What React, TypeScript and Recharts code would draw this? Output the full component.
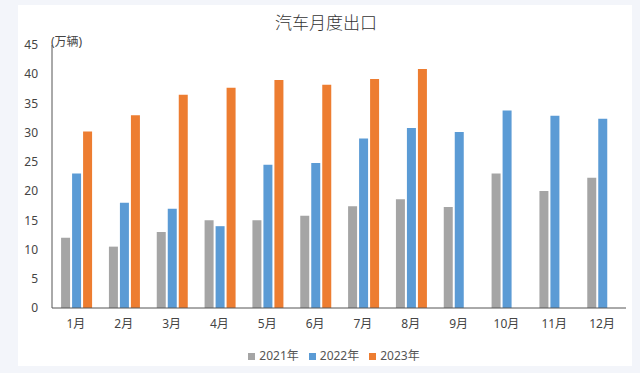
import { BarChart, Bar, XAxis, YAxis, Legend } from 'recharts';

const months = ['1月', '2月', '3月', '4月', '5月', '6月', '7月', '8月', '9月', '10月', '11月', '12月'];
const exports2021 = [12, 10.5, 13, 15, 15, 15.8, 17.4, 18.6, 17.3, 23, 20, 22.3];
const exports2022 = [23, 18, 17, 14, 24.5, 24.8, 29, 30.8, 30.1, 33.8, 32.9, 32.4];
const exports2023 = [30.2, 33, 36.5, 37.7, 39, 38.2, 39.2, 40.9, null, null, null, null];
const yTicks = [0, 5, 10, 15, 20, 25, 30, 35, 40, 45];

const data = months.map((m, i) => ({
  month: m,
  y2021: exports2021[i],
  y2022: exports2022[i],
  y2023: exports2023[i],
}));

const FONT = "'Noto Sans', 'Noto Sans CJK SC', sans-serif";

export default function App() {
  return (
    <div
      style={{
        position: 'absolute',
        left: 0,
        top: 0,
        width: 640,
        height: 373,
        background: '#f3f5fa',
        fontFamily: FONT,
      }}
    >
      <div
        style={{
          position: 'absolute',
          left: 18,
          top: 5,
          width: 614,
          height: 361,
          background: '#fff',
        }}
      />
      <div
        style={{
          position: 'absolute',
          left: 0,
          width: 652,
          top: 9,
          textAlign: 'center',
          fontSize: 17,
          color: '#333',
          fontFamily: "'Noto Sans CJK SC', sans-serif",
          fontWeight: 300,
        }}
      >
        汽车月度出口
      </div>
      <div
        style={{
          position: 'absolute',
          left: 51,
          top: 32,
          fontSize: 12,
          color: '#444',
        }}
      >
        (万辆)
      </div>
      <div style={{ position: 'absolute', left: 0, top: 0 }}>
        <BarChart
          width={640}
          height={373}
          data={data}
          margin={{ top: 45, right: 14, left: 0, bottom: 9 }}
          barCategoryGap="19%"
          barGap={2}
        >
          <XAxis
            dataKey="month"
            axisLine={{ stroke: '#555' }}
            tickLine={false}
            tickMargin={5}
            tick={{ fontSize: 12, fill: '#444', fontFamily: FONT }}
            interval={0}
            height={38}
          />
          <YAxis
            domain={[0, 45]}
            ticks={yTicks}
            axisLine={{ stroke: '#555' }}
            tickLine={false}
            tickMargin={8}
            width={52}
            tick={{ fontSize: 12, fill: '#444', fontFamily: FONT }}
          />
          <Legend
            verticalAlign="bottom"
            iconType="square"
            iconSize={7}
            wrapperStyle={{ fontSize: 12, color: '#555', paddingLeft: 26 }}
            formatter={(v) => <span style={{ color: '#555' }}>{v}</span>}
          />
          <Bar dataKey="y2021" name="2021年" fill="#a5a5a5" isAnimationActive={false} />
          <Bar dataKey="y2022" name="2022年" fill="#5b9bd5" isAnimationActive={false} />
          <Bar dataKey="y2023" name="2023年" fill="#ed7d31" isAnimationActive={false} />
        </BarChart>
      </div>
    </div>
  );
}
